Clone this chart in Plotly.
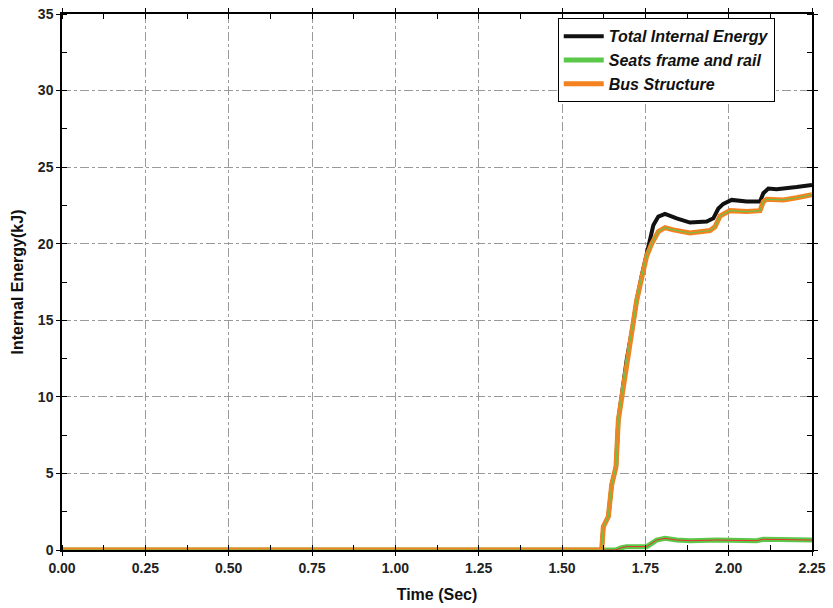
import plotly.graph_objects as go

# Data
t_total = [0, 1.619, 1.624, 1.639, 1.649, 1.662, 1.669, 1.679, 1.694, 1.712, 1.724, 1.739,
           1.759, 1.774, 1.789, 1.809, 1.844, 1.884, 1.934, 1.954, 1.969, 1.984, 2.009,
           2.054, 2.094, 2.104, 2.119, 2.144, 2.204, 2.25]
total = [0, 0, 1.52, 2.18, 4.25, 5.44, 8.49, 10.0, 12.4, 14.6, 16.3, 17.9,
         19.7, 21.2, 21.77, 21.95, 21.66, 21.38, 21.45, 21.66, 22.3, 22.6, 22.86,
         22.75, 22.75, 23.3, 23.6, 23.56, 23.7, 23.84]

t_bus = [0, 1.619, 1.624, 1.639, 1.649, 1.662, 1.669, 1.679, 1.694, 1.712, 1.724, 1.739,
         1.754, 1.769, 1.789, 1.809, 1.834, 1.884, 1.944, 1.959, 1.974, 2.004, 2.054,
         2.094, 2.104, 2.114, 2.164, 2.204, 2.25]
bus = [0, 0, 1.52, 2.18, 4.25, 5.44, 8.49, 10.0, 12.4, 14.6, 16.3, 17.85,
       19.2, 20.0, 20.8, 21.05, 20.9, 20.7, 20.86, 21.1, 21.8, 22.16, 22.1,
       22.16, 22.75, 22.9, 22.86, 23.0, 23.2]

t_seats = [0, 1.66, 1.679, 1.694, 1.754, 1.764, 1.784, 1.809, 1.844, 1.884, 1.964,
           2.084, 2.104, 2.25]
seats = [0, 0, 0.15, 0.22, 0.22, 0.37, 0.65, 0.76, 0.65, 0.61, 0.65, 0.61, 0.70, 0.65]

x_ticks = [0.00, 0.25, 0.50, 0.75, 1.00, 1.25, 1.50, 1.75, 2.00, 2.25]
y_ticks = [0, 5, 10, 15, 20, 25, 30, 35]

fig = go.Figure()
fig.add_trace(go.Scatter(x=t_total, y=total, mode="lines", name="Total Internal Energy",
                         line=dict(color="#111111", width=4)))
fig.add_trace(go.Scatter(x=t_seats, y=seats, mode="lines", name="Seats frame and rail",
                         line=dict(color="#5cc84a", width=5)))
fig.add_trace(go.Scatter(x=t_seats, y=seats, mode="lines", showlegend=False, hoverinfo="skip",
                         line=dict(color="#e8322a", width=1)))
fig.add_trace(go.Scatter(x=t_bus, y=bus, mode="lines", name="Bus Structure",
                         line=dict(color="#f58220", width=5)))
fig.add_trace(go.Scatter(x=t_bus, y=bus, mode="lines", showlegend=False, hoverinfo="skip",
                         line=dict(color="#6cc04a", width=1.2)))

tickfont = dict(family="Liberation Sans, Arial", size=14, color="#222", weight="bold")
titlefont = dict(family="Liberation Sans, Arial", size=16, color="#111", weight="bold")

fig.update_xaxes(range=[0, 2.25], tickvals=x_ticks, ticktext=[f"{v:.2f}" for v in x_ticks],
                 showline=True, linecolor="black", linewidth=1.5, mirror="allticks",
                 ticks="outside", ticklen=4, tickcolor="black", tickwidth=1,
                 showgrid=True, gridcolor="#9a9a9a", griddash="dashdot", gridwidth=1,
                 minor=dict(dtick=0.125, tick0=0, ticks="inside", ticklen=5, tickcolor="black", showgrid=False),
                 zeroline=False, tickfont=tickfont, automargin=False,
                 title=dict(text="Time (Sec)", font=titlefont, standoff=14))
fig.update_yaxes(range=[0, 35], tickvals=y_ticks,
                 showline=True, linecolor="black", linewidth=1.5, mirror="allticks",
                 ticks="outside", ticklen=4, tickcolor="black", tickwidth=1,
                 showgrid=True, gridcolor="#9a9a9a", griddash="dashdot", gridwidth=1,
                 minor=dict(dtick=2.5, tick0=0, ticks="inside", ticklen=5, tickcolor="black", showgrid=False),
                 zeroline=False, tickfont=tickfont, automargin=False,
                 title=dict(text="Internal Energy(kJ)", font=titlefont, standoff=10))

fig.update_layout(
    width=833, height=608,
    margin=dict(l=62, r=21, t=14, b=58),
    plot_bgcolor="white", paper_bgcolor="white",
    showlegend=True,
    legend=dict(x=0.661, y=0.992, xanchor="left", yanchor="top",
                bordercolor="black", borderwidth=1, bgcolor="white",
                font=dict(family="Liberation Sans, Arial", size=16, color="#111",
                          weight="bold", style="italic"),
                tracegroupgap=0, itemwidth=40),
)

fig.write_html("out.html")
